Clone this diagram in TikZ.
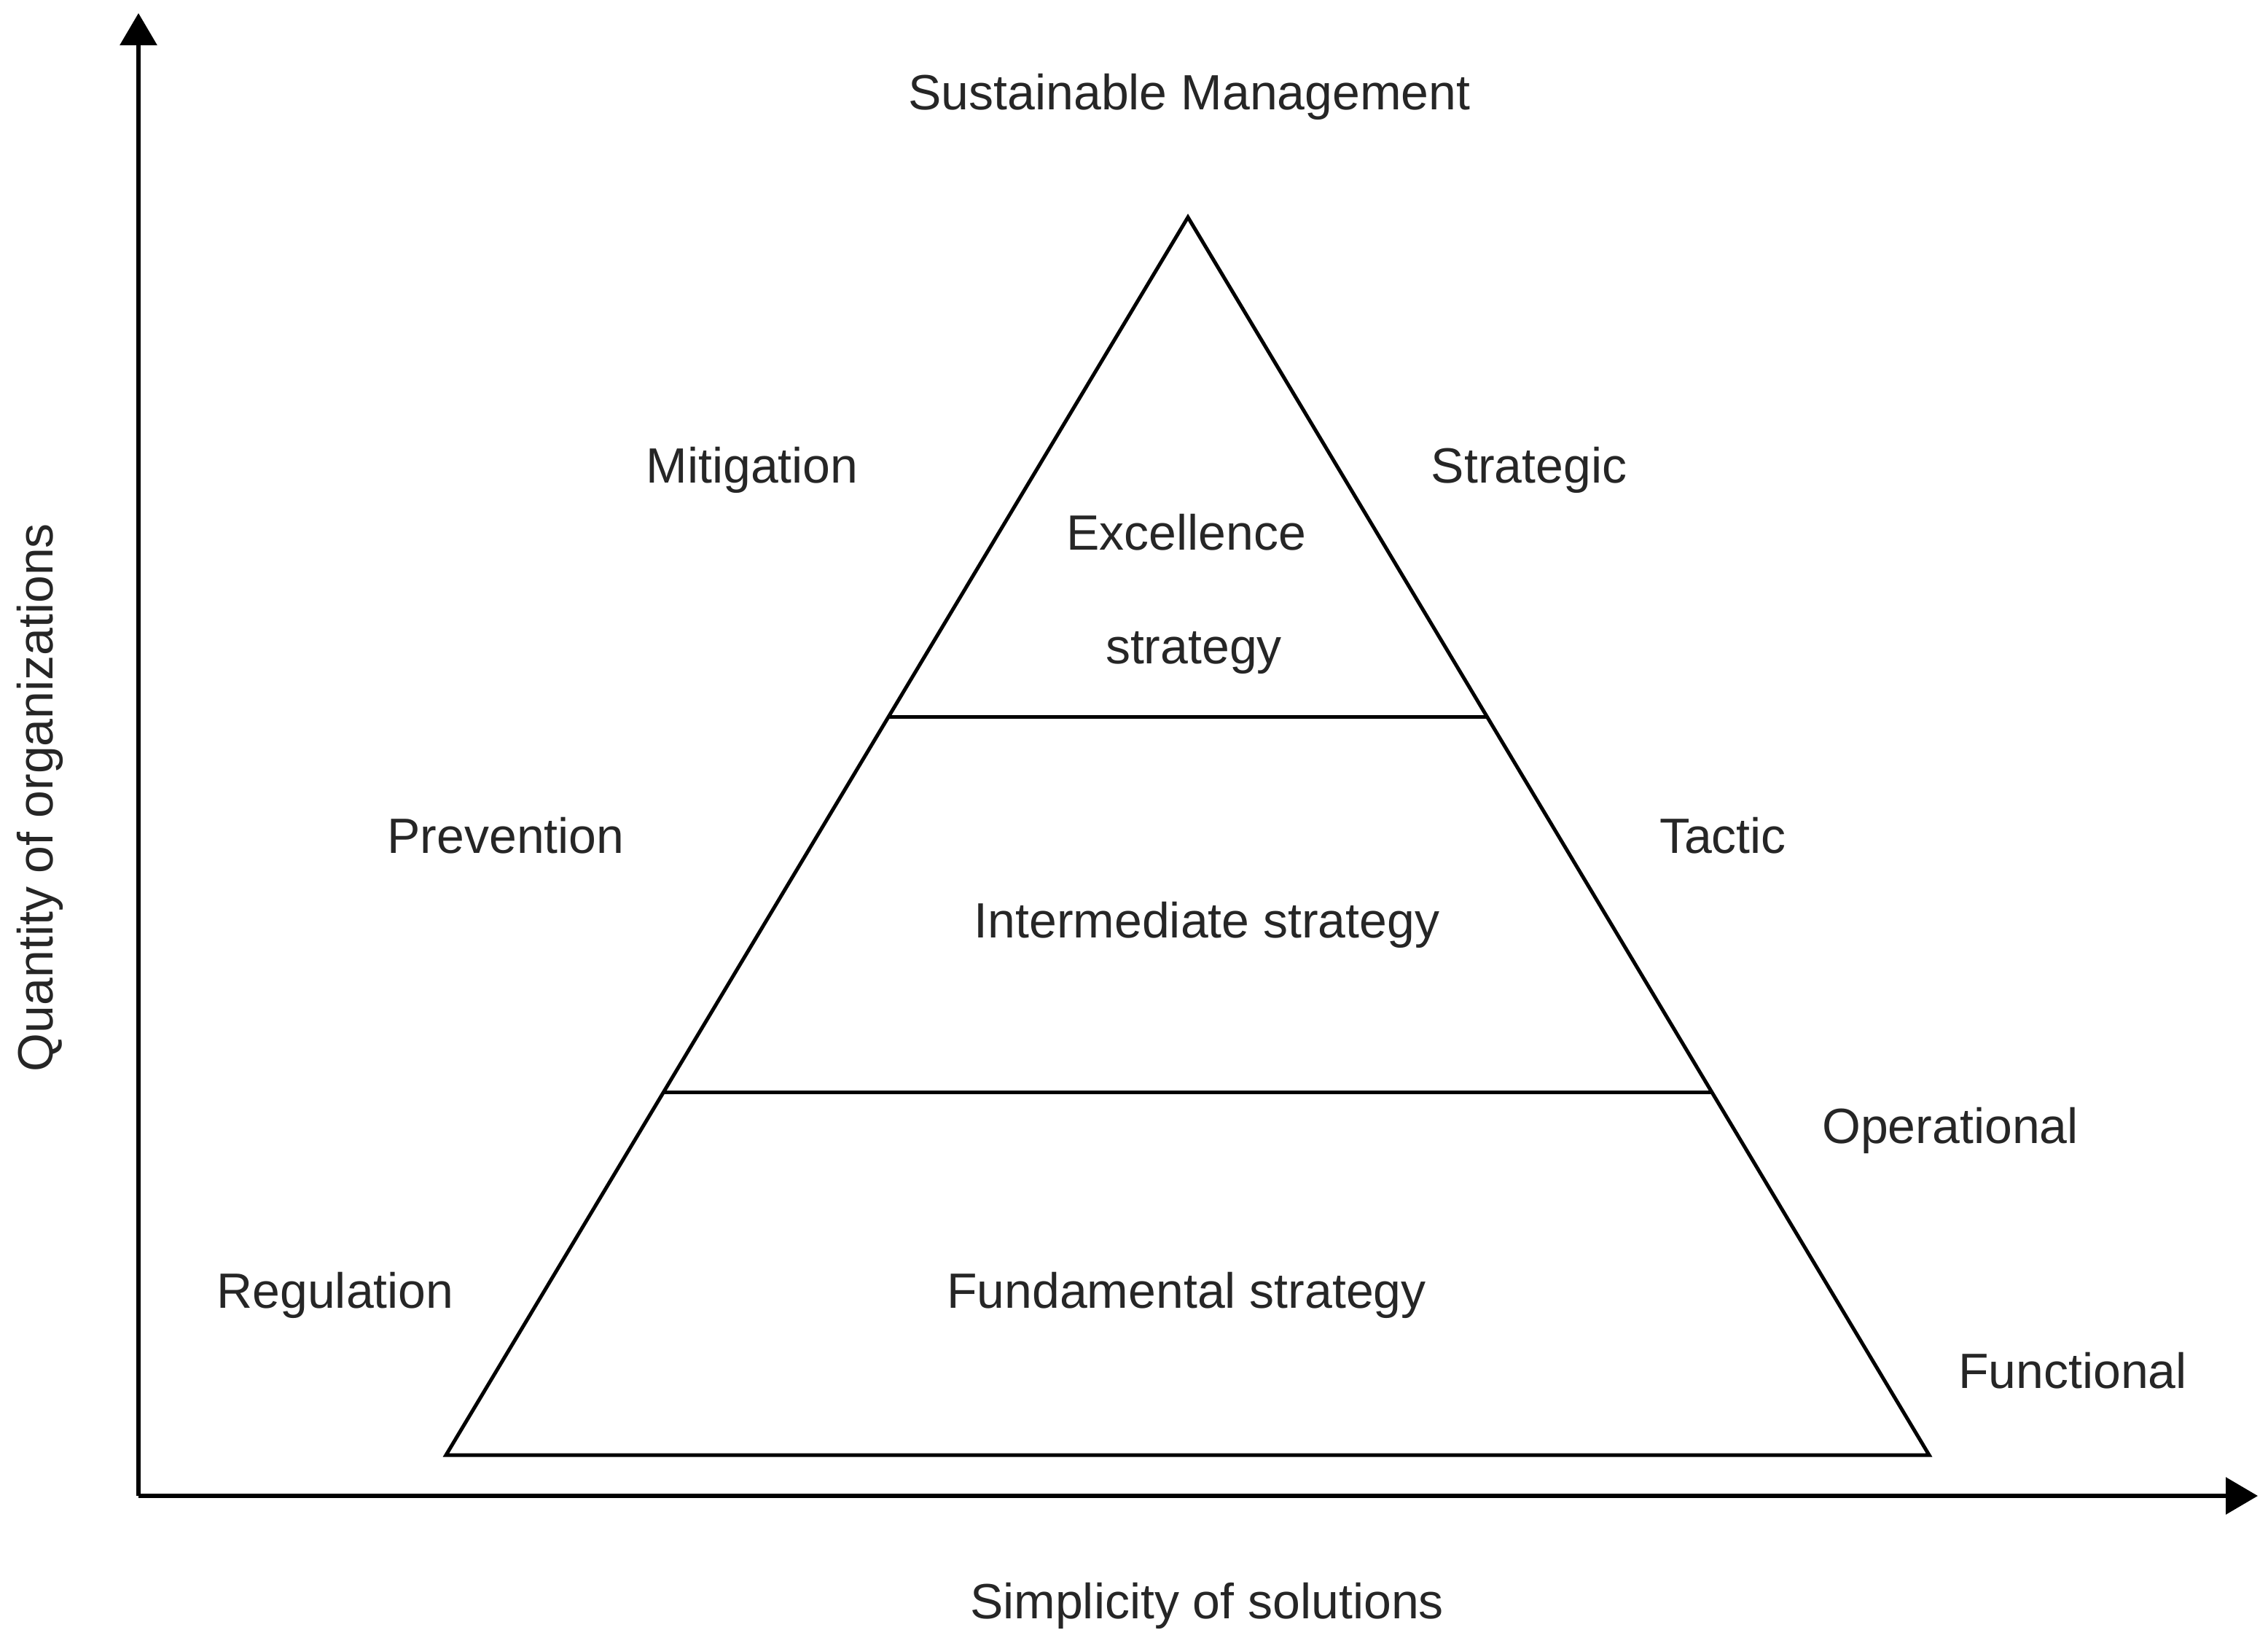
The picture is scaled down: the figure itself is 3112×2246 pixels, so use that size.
\documentclass[tikz,border=0pt]{standalone}
\usepackage{fontspec}
\setmainfont{Liberation Sans}
\usetikzlibrary{arrows.meta}
\begin{document}
\begin{tikzpicture}[x=1pt,y=-1pt,
  axis/.style={line width=6pt,-{Triangle[length=44pt,width=50pt]}},
  tri/.style={line width=5pt,line join=miter},
  lbl/.style={anchor=base,inner sep=0pt,font=\fontsize{68}{82}\selectfont,text=black!85}]
\useasboundingbox (0,0) rectangle (3112,2246);
\coordinate (O) at (190,2052);
\coordinate (Ytip) at (190,18);
\coordinate (Xtip) at (3098,2052);
\draw[axis] (O) -- (Ytip);
\draw[axis] (O) -- (Xtip);
\coordinate (apex) at (1630,298);
\coordinate (bl) at (612,1996);
\coordinate (br) at (2647,1996);
\coordinate (l1a) at (1219,983);
\coordinate (l1b) at (2041,983);
\coordinate (l2a) at (911,1498);
\coordinate (l2b) at (2349,1498);
\draw[tri] (apex) -- (br) -- (bl) -- cycle;
\draw[tri] (l1a) -- (l1b);
\draw[tri] (l2a) -- (l2b);
\node[lbl] (sm) at (1632,150) {Sustainable Management};
\node[lbl] (mit) at (1032,662) {Mitigation};
\node[lbl] (str) at (2098,662) {Strategic};
\node[lbl] (exc) at (1628,754) {Excellence};
\node[lbl] (exs) at (1638,910) {strategy};
\node[lbl] (pre) at (694,1170) {Prevention};
\node[lbl] (tac) at (2364,1170) {Tactic};
\node[lbl] (int) at (1656,1286) {Intermediate strategy};
\node[lbl] (ope) at (2676,1568) {Operational};
\node[lbl] (reg) at (460,1794) {Regulation};
\node[lbl] (fun) at (1628,1794) {Fundamental strategy};
\node[lbl] (fnc) at (2844,1904) {Functional};
\node[lbl] (sim) at (1656,2220) {Simplicity of solutions};
\node[lbl,rotate=90] (qua) at (72,1094) {Quantity of organizations};
\end{tikzpicture}
\end{document}
